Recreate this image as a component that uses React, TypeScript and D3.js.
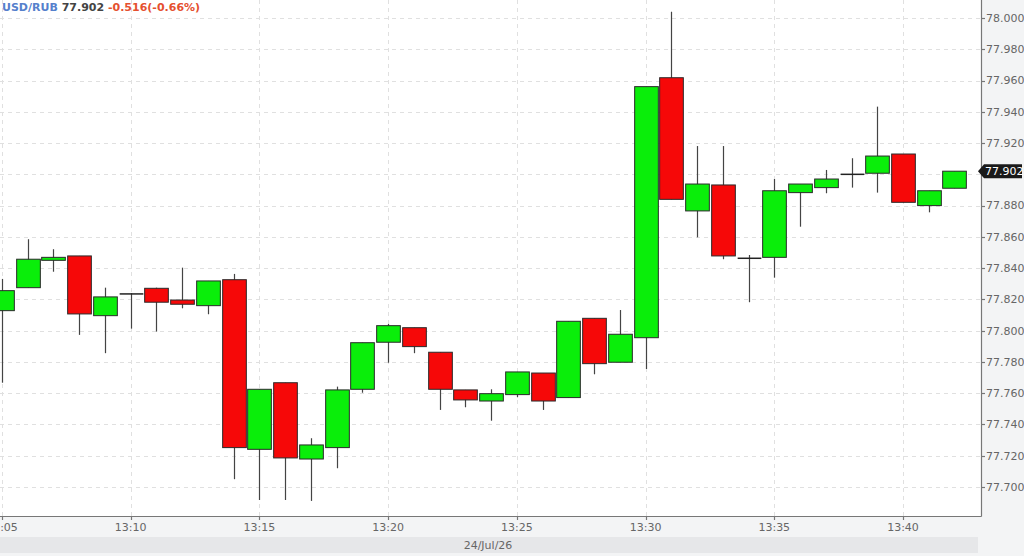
import React from "react";
import * as d3 from "d3";

// USD/RUB one-minute candles, 24 Jul 2026, 13:05 - 13:42
const minutes = [5, 6, 7, 8, 9, 10, 11, 12, 13, 14, 15, 16, 17, 18, 19, 20, 21, 22, 23, 24, 25, 26, 27, 28, 29, 30, 31, 32, 33, 34, 35, 36, 37, 38, 39, 40, 41, 42];
const open = [77.8128, 77.8275, 77.845, 77.8478, 77.8096, 77.8235, 77.8271, 77.8196, 77.816, 77.8326, 77.7241, 77.7667, 77.7179, 77.7252, 77.7625, 77.7926, 77.8019, 77.7862, 77.7621, 77.755, 77.7591, 77.7729, 77.7572, 77.8079, 77.7798, 77.7955, 77.9618, 77.8766, 77.8932, 77.8463, 77.8469, 77.8883, 77.8915, 77.9, 77.9007, 77.913, 77.88, 77.8911];
const close = [77.8256, 77.8457, 77.8469, 77.8107, 77.8216, 77.8235, 77.8182, 77.8169, 77.8318, 77.7252, 77.7625, 77.7186, 77.7269, 77.7621, 77.7923, 77.8032, 77.7898, 77.7625, 77.7557, 77.7597, 77.7736, 77.755, 77.806, 77.7789, 77.7977, 77.9561, 77.884, 77.8938, 77.8478, 77.8463, 77.8895, 77.8938, 77.897, 77.9, 77.9117, 77.8821, 77.8895, 77.902];
const high = [77.8331, 77.8585, 77.8521, 77.8478, 77.8275, 77.824, 77.8275, 77.8403, 77.8318, 77.8363, 77.7625, 77.7667, 77.7312, 77.7642, 77.7923, 77.8043, 77.8019, 77.7862, 77.7621, 77.7625, 77.7736, 77.7729, 77.806, 77.8079, 77.8132, 77.9561, 78.004, 77.9181, 77.9181, 77.8484, 77.897, 77.8938, 77.9028, 77.9103, 77.9433, 77.913, 77.8895, 77.9017];
const low = [77.7667, 77.8275, 77.8377, 77.7973, 77.7856, 77.8013, 77.7994, 77.8143, 77.8105, 77.705, 77.6917, 77.6917, 77.6911, 77.712, 77.7603, 77.7795, 77.7856, 77.7493, 77.751, 77.7424, 77.7574, 77.7493, 77.7572, 77.7721, 77.7798, 77.7755, 77.884, 77.8597, 77.8457, 77.8182, 77.8339, 77.8665, 77.8879, 77.8915, 77.8883, 77.8821, 77.8757, 77.8911];

const priceTicks = [77.7, 77.72, 77.74, 77.76, 77.78, 77.8, 77.82, 77.84, 77.86, 77.88, 77.9, 77.92, 77.94, 77.96, 77.98, 78.0];
const timeTickMinutes = [5, 10, 15, 20, 25, 30, 35, 40];
const dateLabel = "24/Jul/26";
const symbol = "USD/RUB";
const lastPrice = "77.902";
const change = "-0.516(-0.66%)";

const W = 1024;
const H = 556;
const plotRight = 981;
const plotBottom = 516;

const at = (m: number) => new Date(2026, 6, 24, 13, m);

const x = d3.scaleTime().domain([at(5), at(40)]).range([2, 903]);
const y = d3.scaleLinear().domain([77.7, 78.0]).range([487, 18]);

const GREEN = "#0aee0a";
const RED = "#f60808";
const font = "'DejaVu Sans', sans-serif";

export default function App() {
  const step = x(at(6)) - x(at(5));
  const bodyW = step * 0.92;
  const fmt = d3.timeFormat("%H:%M");
  const lastY = y(+lastPrice);
  // the last-price tag sits over the nearest tick label
  const shownTicks = priceTicks.filter((p) => Math.abs(y(p) - lastY) > 10);

  return (
    <>
      <style>{`body{margin:0}`}</style>
      <svg width={W} height={H} style={{ display: "block", fontFamily: font }}>
        <defs>
          <clipPath id="plot">
            <rect x={0} y={0} width={plotRight} height={plotBottom} />
          </clipPath>
        </defs>
        <rect x={0} y={0} width={W} height={H} fill="#f3f4f5" />
        <rect x={0} y={0} width={plotRight} height={plotBottom} fill="#fff" />
        <rect x={0} y={537} width={978} height={16} fill="#e6e7e9" />

        {/* grid */}
        <g stroke="#e0e0e0" strokeDasharray="4,4" strokeWidth={1}>
          {priceTicks.map((p) => (
            <line key={p} x1={0} x2={plotRight} y1={Math.round(y(p)) + 0.5} y2={Math.round(y(p)) + 0.5} />
          ))}
          {timeTickMinutes.map((m) => (
            <line key={m} x1={Math.round(x(at(m))) + 0.5} x2={Math.round(x(at(m))) + 0.5} y1={0} y2={plotBottom} />
          ))}
        </g>

        {/* candles */}
        <g clipPath="url(#plot)">
          {minutes.map((m, i) => {
            const cx = Math.round(x(at(m))) + 0.5;
            const o = open[i];
            const c = close[i];
            const top = y(Math.max(o, c));
            const bot = y(Math.min(o, c));
            const doji = Math.abs(o - c) < 0.0002;
            const fill = c >= o ? GREEN : RED;
            return (
              <g key={m}>
                <line x1={cx} x2={cx} y1={y(high[i])} y2={y(low[i])} stroke="#444" strokeWidth={1.2} />
                {doji ? (
                  <line x1={cx - bodyW / 2} x2={cx + bodyW / 2} y1={top} y2={top} stroke="#222" strokeWidth={1.5} />
                ) : (
                  <rect
                    x={cx - bodyW / 2}
                    y={top}
                    width={bodyW}
                    height={Math.max(bot - top, 2)}
                    fill={fill}
                    stroke="#2a2a2a"
                    strokeWidth={1}
                  />
                )}
              </g>
            );
          })}
        </g>

        {/* axes */}
        <g stroke="#777" strokeWidth={1.2}>
          <line x1={plotRight + 0.5} x2={plotRight + 0.5} y1={0} y2={plotBottom + 0.5} />
          <line x1={0} x2={plotRight + 0.5} y1={plotBottom + 0.5} y2={plotBottom + 0.5} />
          {priceTicks.map((p) => (
            <line key={p} x1={plotRight} x2={plotRight + 4} y1={Math.round(y(p)) + 0.5} y2={Math.round(y(p)) + 0.5} />
          ))}
          {timeTickMinutes.map((m) => (
            <line key={m} x1={Math.round(x(at(m))) + 0.5} x2={Math.round(x(at(m))) + 0.5} y1={plotBottom} y2={plotBottom + 4} />
          ))}
        </g>
        <g fontSize={11} fill="#666">
          {shownTicks.map((p) => (
            <text key={p} x={plotRight + 5} y={y(p)} dy="0.35em">
              {p.toFixed(3)}
            </text>
          ))}
          {timeTickMinutes.map((m) => (
            <text key={m} x={x(at(m))} y={531} textAnchor="middle">
              {fmt(at(m))}
            </text>
          ))}
          <text x={488} y={549} textAnchor="middle">
            {dateLabel}
          </text>
        </g>

        {/* last price tag */}
        <path
          d={`M${plotRight - 3},${lastY} L${plotRight + 3},${lastY - 7} L${W - 2},${lastY - 7} L${W - 2},${lastY + 7} L${plotRight + 3},${lastY + 7} Z`}
          fill="#1a1a1a"
        />
        <text x={plotRight + 4} y={lastY} dy="0.35em" fontSize={11} fill="#fff">
          {lastPrice}
        </text>

        {/* title */}
        <text x={2} y={11} fontSize={11} fontWeight="bold">
          <tspan fill="#5580cc">{symbol} </tspan>
          <tspan fill="#444">{lastPrice} </tspan>
          <tspan fill="#e5502f">{change}</tspan>
        </text>
      </svg>
    </>
  );
}
